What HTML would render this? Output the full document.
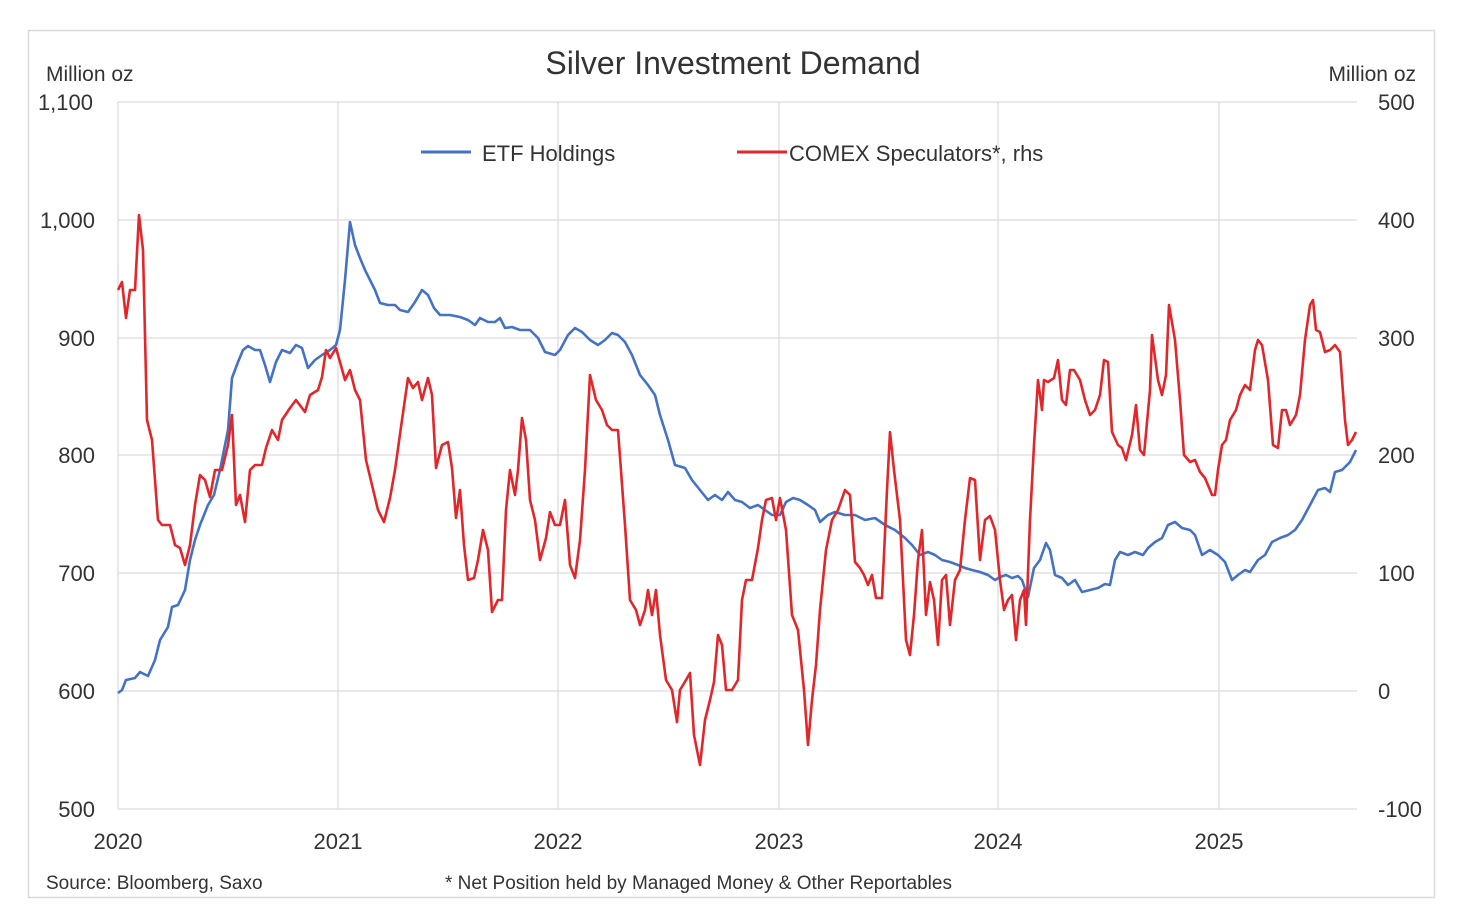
<!DOCTYPE html>
<html><head><meta charset="utf-8"><style>
body{margin:0;background:#fff;}
svg text{font-family:"Liberation Sans",sans-serif;fill:#333;}
</style></head><body>
<svg width="1458" height="916" viewBox="0 0 1458 916" xmlns="http://www.w3.org/2000/svg">
<rect x="0" y="0" width="1458" height="916" fill="#fff"/>
<rect x="28.5" y="30.5" width="1406" height="867" fill="none" stroke="#d9d9d9" stroke-width="1.5"/>
<g stroke="#dcdcdc" stroke-width="1.3">
<line x1="118" y1="102" x2="1357" y2="102"/>
<line x1="118" y1="220" x2="1357" y2="220"/>
<line x1="118" y1="338" x2="1357" y2="338"/>
<line x1="118" y1="455" x2="1357" y2="455"/>
<line x1="118" y1="573" x2="1357" y2="573"/>
<line x1="118" y1="691" x2="1357" y2="691"/>
<line x1="118" y1="809" x2="1357" y2="809"/>
<line x1="118" y1="102" x2="118" y2="809"/>
<line x1="338" y1="102" x2="338" y2="809"/>
<line x1="558" y1="102" x2="558" y2="809"/>
<line x1="779" y1="102" x2="779" y2="809"/>
<line x1="998" y1="102" x2="998" y2="809"/>
<line x1="1219" y1="102" x2="1219" y2="809"/>
</g>
<text x="733" y="74" font-size="32" text-anchor="middle" fill="#222">Silver Investment Demand</text>
<text x="46" y="81" font-size="21">Million oz</text>
<text x="1416" y="81" font-size="21" text-anchor="end">Million oz</text>
<g font-size="22" text-anchor="end">
<text x="93" y="110">1,100</text><text x="95" y="228">1,000</text><text x="95" y="346">900</text><text x="95" y="463">800</text><text x="95" y="581">700</text><text x="95" y="699">600</text><text x="95" y="817">500</text>
</g>
<g font-size="22" text-anchor="start">
<text x="1378" y="110">500</text><text x="1378" y="228">400</text><text x="1378" y="346">300</text><text x="1378" y="463">200</text><text x="1378" y="581">100</text><text x="1378" y="699">0</text><text x="1378" y="817">-100</text>
</g>
<g font-size="22" text-anchor="middle">
<text x="118" y="849">2020</text><text x="338" y="849">2021</text><text x="558" y="849">2022</text><text x="779" y="849">2023</text><text x="998" y="849">2024</text><text x="1219" y="849">2025</text>
</g>
<text x="46" y="889" font-size="19">Source: Bloomberg, Saxo</text>
<text x="445" y="889" font-size="19">* Net Position held by Managed Money &amp; Other Reportables</text>
<line x1="421" y1="152" x2="471" y2="152" stroke="#4472c4" stroke-width="3"/>
<text x="482" y="161" font-size="22">ETF Holdings</text>
<line x1="737" y1="152" x2="787" y2="152" stroke="#e3262a" stroke-width="3"/>
<text x="789" y="161" font-size="22">COMEX Speculators*, rhs</text>
<polyline fill="none" stroke="#4472c4" stroke-width="2.6" stroke-linejoin="round" points="118,693 122,690 126,680 135,678 140,672 148,676 155,660 160,640 168,627 172,607 178,605 185,590 190,560 195,540 200,525 208,505 214,495 220,470 228,430 232,378 238,362 243,350 248,346 255,350 260,350 265,365 270,382 276,362 282,350 290,353 296,345 302,348 308,368 315,360 322,355 330,350 336,345 340,330 345,280 350,222 355,245 360,258 365,270 370,280 375,290 380,303 388,305 395,305 400,310 408,312 415,302 422,290 428,295 434,308 440,315 450,315 460,317 468,320 475,325 480,318 488,322 495,322 500,318 505,328 512,327 520,330 530,330 538,338 545,352 555,355 560,350 568,335 575,328 582,332 590,340 598,345 605,340 612,333 618,335 625,342 632,355 640,375 648,385 655,395 660,415 668,440 675,465 685,468 692,480 700,490 708,500 715,495 722,500 728,492 735,500 742,502 750,508 758,505 765,510 772,515 780,515 786,502 793,498 800,500 808,505 815,510 820,522 828,515 835,512 845,515 855,515 865,520 875,518 885,525 895,530 905,538 912,545 920,555 928,552 935,555 942,560 950,562 958,565 965,568 972,570 980,572 988,575 995,580 1000,577 1006,575 1012,578 1018,576 1022,580 1028,597 1034,568 1040,560 1046,543 1050,550 1055,575 1062,578 1068,585 1075,580 1082,592 1090,590 1098,588 1105,584 1110,585 1115,560 1120,552 1128,555 1135,552 1143,555 1148,548 1155,542 1162,538 1168,525 1175,522 1182,528 1190,530 1195,535 1202,555 1210,550 1218,555 1225,562 1232,580 1238,575 1245,570 1250,572 1258,560 1265,555 1272,542 1280,538 1288,535 1295,530 1302,520 1310,505 1318,490 1325,488 1330,492 1335,472 1342,470 1350,462 1356,450"/>
<polyline fill="none" stroke="#e3262a" stroke-width="2.6" stroke-linejoin="round" points="118,290 122,282 126,318 130,290 135,290 139,215 143,250 147,420 152,440 158,520 162,525 170,525 175,545 180,548 185,565 190,545 195,505 200,475 205,480 210,497 215,470 222,470 228,445 232,415 236,505 240,495 245,522 250,470 255,465 262,465 266,448 272,430 278,440 282,420 290,408 296,400 305,412 310,395 318,390 322,377 326,350 330,358 336,348 340,362 345,380 350,370 355,390 360,400 366,460 372,485 378,510 384,522 390,498 395,470 402,420 408,378 413,388 418,382 422,400 428,378 432,395 436,468 442,445 448,442 452,468 456,518 460,490 464,545 468,580 474,578 478,560 483,530 488,550 492,612 498,600 502,600 506,510 510,470 515,495 518,470 522,418 526,440 530,500 535,520 540,560 546,538 550,512 555,525 560,525 565,500 570,565 575,578 580,540 585,470 590,375 596,400 602,410 607,425 612,430 618,430 625,525 630,600 636,610 640,625 645,610 648,590 652,615 656,590 660,635 666,680 672,690 677,722 680,690 686,680 690,673 694,735 700,765 705,720 710,700 714,682 718,635 722,645 726,690 732,690 738,680 742,600 746,580 752,580 758,548 762,520 766,500 772,498 776,520 780,498 786,530 792,615 798,630 804,690 808,745 812,700 816,665 820,610 826,550 832,520 838,510 845,490 850,495 855,562 860,568 864,575 868,585 872,575 876,598 882,598 887,490 890,432 894,470 900,520 906,640 910,655 914,615 918,560 922,530 926,615 930,582 934,600 938,645 942,580 946,575 950,625 955,580 960,570 965,520 970,478 975,480 980,560 985,520 990,516 995,530 1000,580 1004,610 1008,600 1012,595 1016,640 1020,600 1024,590 1026,625 1030,520 1034,445 1038,380 1042,410 1044,380 1048,382 1054,378 1058,360 1062,400 1066,405 1070,370 1074,370 1080,380 1085,400 1090,415 1095,410 1100,395 1104,360 1108,362 1112,432 1118,445 1122,448 1126,460 1132,435 1136,405 1140,450 1144,455 1150,390 1152,335 1158,380 1162,395 1166,375 1169,305 1175,340 1180,400 1184,455 1190,462 1195,460 1200,472 1205,478 1210,490 1212,495 1215,495 1218,470 1222,445 1226,440 1230,420 1236,410 1240,395 1245,385 1250,390 1255,350 1258,340 1262,345 1268,380 1273,445 1278,448 1282,410 1286,410 1290,425 1296,415 1300,395 1305,340 1310,305 1313,300 1316,330 1320,332 1325,352 1330,350 1335,345 1340,352 1345,420 1348,445 1352,440 1356,432"/>
</svg>
</body></html>
